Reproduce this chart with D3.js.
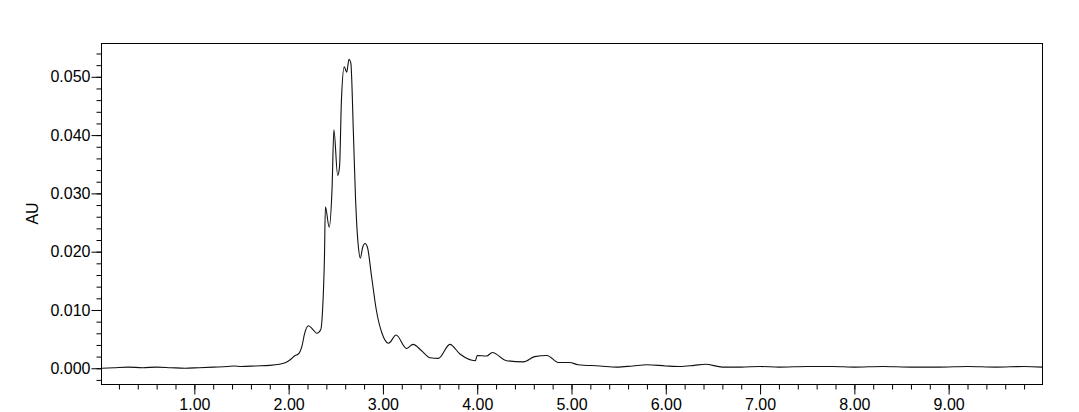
<!DOCTYPE html>
<html>
<head>
<meta charset="utf-8">
<script src="https://cdn.jsdelivr.net/npm/d3@7"></script>
<style>
  body { margin: 0; background: #fff; }
  svg text { font-family: "Liberation Sans", Arial, sans-serif; font-size: 16px; fill: #000; }
</style>
</head>
<body>
<svg width="1079" height="412"></svg>
<script>
// retention time (min) and absorbance (AU)
var times = [0.02, 0.15, 0.3, 0.45, 0.6, 0.75, 0.9, 1.05, 1.2, 1.35, 1.42, 1.5, 1.65, 1.8, 1.9, 1.97,
  2.02, 2.07, 2.10, 2.14, 2.17, 2.21, 2.26, 2.30, 2.34, 2.36, 2.38, 2.39, 2.43, 2.46, 2.48, 2.52,
  2.54, 2.56, 2.59, 2.616, 2.64, 2.66, 2.687, 2.71, 2.72, 2.74, 2.76, 2.786, 2.81, 2.835, 2.88,
  2.93, 2.99, 3.06, 3.14, 3.25, 3.32, 3.41, 3.50, 3.59, 3.71, 3.82, 3.98, 4.00, 4.10, 4.16, 4.31,
  4.49, 4.61, 4.74, 4.86, 4.98, 5.07, 5.30, 5.48, 5.65, 5.80, 6.0, 6.15, 6.30, 6.42, 6.6, 6.8,
  7.0, 7.2, 7.5, 7.77, 8.0, 8.3, 8.6, 8.9, 9.2, 9.5, 9.8, 9.99];
var au = [0.0000, 0.0001, 0.0002, 0.0001, 0.0002, 0.0001, 0.0000, 0.0001, 0.0002, 0.0003, 0.0004, 0.0003, 0.0004, 0.0005, 0.0007, 0.0010,
  0.0015, 0.0022, 0.0024, 0.0037, 0.0060, 0.0073, 0.0066, 0.0060, 0.0066, 0.0100, 0.0191, 0.0277, 0.0242, 0.0306, 0.0409, 0.0331,
  0.0346, 0.0460, 0.0517, 0.0508, 0.0530, 0.0523, 0.0403, 0.0289, 0.0254, 0.0208, 0.0189, 0.0208, 0.0214, 0.0208, 0.0157,
  0.0100, 0.0060, 0.0043, 0.0057, 0.0034, 0.0041, 0.0030, 0.0018, 0.0017, 0.0041, 0.0024, 0.0013, 0.0022, 0.0021, 0.0027, 0.0013,
  0.0011, 0.0020, 0.0022, 0.0010, 0.0010, 0.0006, 0.0004, 0.0002, 0.0004, 0.0006, 0.0004, 0.0003, 0.0005, 0.0007, 0.0002, 0.0002,
  0.0003, 0.0002, 0.0003, 0.0003, 0.0002, 0.0003, 0.0002, 0.0002, 0.0003, 0.0002, 0.0003, 0.0002];

var xMajor = [1, 2, 3, 4, 5, 6, 7, 8, 9];
var xMinor = d3.range(1, 50).map(function(i) { return i * 0.2; });
var yMajor = [0, 0.01, 0.02, 0.03, 0.04, 0.05];
var yMinor = d3.range(-1, 28).map(function(i) { return i * 0.002; });
var yTitle = "AU";

var svg = d3.select("svg");
// note: "top" is taken by window.top, so plot edges live in an object
var box = {left: 101, right: 1042, top: 43, bottom: 384};

var x = d3.scaleLinear().domain([0.01, 9.99]).range([box.left, box.right]);
var y = d3.scaleLinear().domain([-0.0027, 0.0558]).range([box.bottom, box.top]);

var data = times.map(function(t, i) { return {t: t, v: au[i]}; });

// minor ticks first, then the labelled ones
svg.append("g")
    .attr("transform", "translate(0," + (box.bottom + 0.5) + ")")
    .call(d3.axisBottom(x).tickValues(xMinor).tickSize(5).tickFormat(""))
  .select(".domain").remove();
svg.append("g")
    .attr("transform", "translate(0," + (box.bottom + 0.5) + ")")
    .call(d3.axisBottom(x).tickValues(xMajor).tickSize(10).tickPadding(4).tickFormat(d3.format(".2f")))
  .select(".domain").remove();

svg.append("g")
    .attr("transform", "translate(" + (box.left + 0.5) + ",0)")
    .call(d3.axisLeft(y).tickValues(yMinor).tickSize(5).tickFormat(""))
  .select(".domain").remove();
svg.append("g")
    .attr("transform", "translate(" + (box.left + 0.5) + ",0)")
    .call(d3.axisLeft(y).tickValues(yMajor).tickSize(10).tickPadding(1).tickFormat(d3.format(".3f")))
  .select(".domain").remove();

svg.selectAll(".tick line").attr("stroke", "#000");

svg.append("text")
    .attr("transform", "translate(38," + (box.top + box.bottom) / 2 + ") rotate(-90)")
    .attr("text-anchor", "middle")
    .text(yTitle);

svg.append("rect")
    .attr("x", box.left + 0.5)
    .attr("y", box.top + 0.5)
    .attr("width", box.right - box.left)
    .attr("height", box.bottom - box.top)
    .attr("fill", "none")
    .attr("stroke", "#000")
    .attr("stroke-width", 1);

var line = d3.line()
    .curve(d3.curveMonotoneX)
    .x(function(d) { return x(d.t); })
    .y(function(d) { return y(d.v); });

svg.append("path")
    .datum(data)
    .attr("fill", "none")
    .attr("stroke", "#111")
    .attr("stroke-width", 1.1)
    .attr("stroke-linejoin", "round")
    .attr("d", line);
</script>
</body>
</html>
